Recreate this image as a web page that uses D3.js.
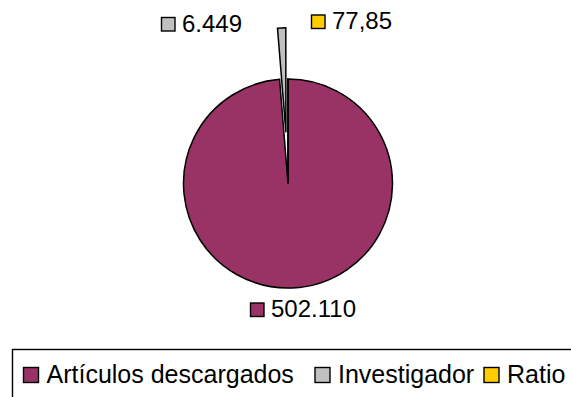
<!DOCTYPE html>
<html>
<head>
<meta charset="utf-8">
<script src="https://cdn.jsdelivr.net/npm/d3@7"></script>
<style>
  html, body { margin: 0; padding: 0; background: #fff; }
  svg { display: block; }
  text { font-family: "Liberation Sans", Arial, sans-serif; fill: #000; }
</style>
</head>
<body>
<svg id="chart" width="571" height="397"></svg>
<script>
// Series shown in the pie
const categories = ["Artículos descargados", "Investigador", "Ratio"];
const values = [502110, 6449, 77.85];
const valueLabels = ["502.110", "6.449", "77,85"];
const colors = ["#993366", "#C0C0C0", "#FFCC00"];
const exploded = [0, 0.49, 0];

const cx = 288, cy = 183.5, radius = 104.5;
const labelFont = 24, legendFont = 25;

const svg = d3.select("#chart");

const pie = d3.pie().sort(null).value(d => d.value);
const arcs = pie(categories.map((c, i) => ({ name: c, value: values[i], i })));
const arc = d3.arc().innerRadius(0).outerRadius(radius);

const g = svg.append("g").attr("transform", `translate(${cx},${cy})`);

g.selectAll("path.slice")
  .data(arcs)
  .join("path")
  .attr("class", "slice")
  .attr("transform", d => {
    const a = (d.startAngle + d.endAngle) / 2;
    const off = exploded[d.data.i] * radius;
    return `translate(${Math.sin(a) * off},${-Math.cos(a) * off})`;
  })
  .attr("d", arc)
  .attr("fill", d => colors[d.data.i])
  .attr("stroke", "#000")
  .attr("stroke-width", 1.5)
  .attr("stroke-linejoin", "miter");

// Data labels, each with its legend key
const labelPos = [
  { x: 250.5, baseline: 317 },  // Artículos descargados
  { x: 161.5, baseline: 31.5 }, // Investigador
  { x: 311.5, baseline: 29 }    // Ratio
];
const keySize = 13.5;

const labels = svg.append("g").selectAll("g.lab")
  .data(arcs)
  .join("g")
  .attr("class", "lab")
  .attr("transform", d => `translate(${labelPos[d.data.i].x},${labelPos[d.data.i].baseline})`);

labels.append("rect")
  .attr("x", 0).attr("y", -keySize - 0.5)
  .attr("width", keySize).attr("height", keySize)
  .attr("fill", d => colors[d.data.i])
  .attr("stroke", "#000").attr("stroke-width", 1.4);

labels.append("text")
  .attr("x", keySize + 7)
  .attr("y", 0)
  .attr("font-size", labelFont)
  .text(d => valueLabels[d.data.i]);

// Legend (its frame runs past the right and bottom edges)
const legend = svg.append("g");
legend.append("rect")
  .attr("x", 12.5).attr("y", 349.5)
  .attr("width", 600).attr("height", 100)
  .attr("fill", "none").attr("stroke", "#000").attr("stroke-width", 1.4);

const legendX = [23.5, 315, 484];
const legendBase = 383;
const legendKey = 15;
categories.forEach((c, i) => {
  legend.append("rect")
    .attr("x", legendX[i]).attr("y", legendBase - 15.5)
    .attr("width", legendKey).attr("height", legendKey)
    .attr("fill", colors[i]).attr("stroke", "#000").attr("stroke-width", 1.4);
  legend.append("text")
    .attr("x", legendX[i] + legendKey + 8)
    .attr("y", legendBase)
    .attr("font-size", legendFont)
    .text(c);
});
</script>
</body>
</html>
